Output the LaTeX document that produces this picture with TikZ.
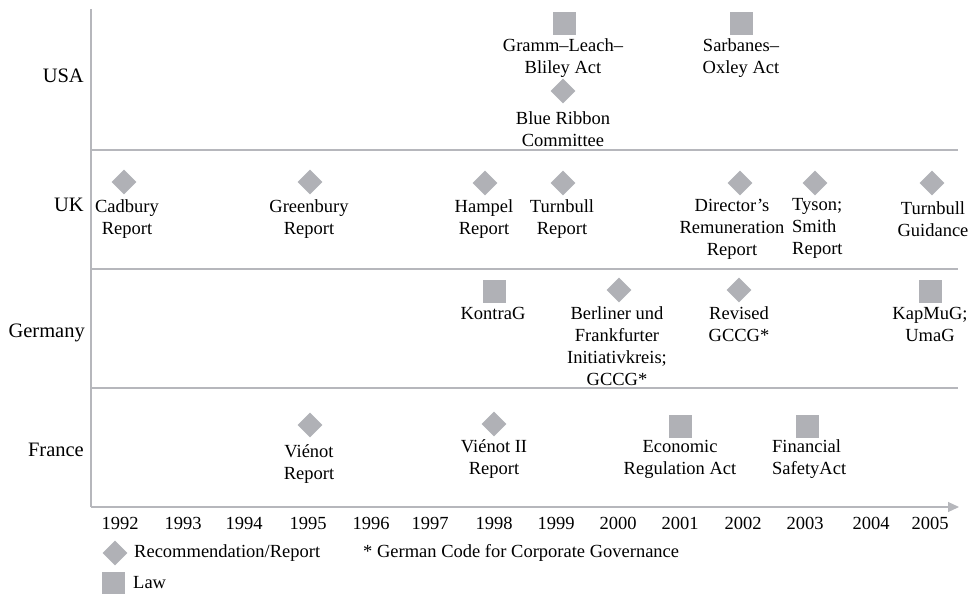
\documentclass[tikz,border=0pt]{standalone}
\usepackage{fontspec}
\setmainfont{Liberation Serif}
\usetikzlibrary{shapes.geometric,arrows.meta}
\definecolor{symgray}{RGB}{176,177,182}
\definecolor{linegray}{RGB}{182,183,188}
\begin{document}
\begin{tikzpicture}[x=1pt,y=-1pt,
  rec/.style={diamond,fill=symgray,inner sep=0pt,minimum width=25pt,minimum height=25pt},
  law/.style={rectangle,fill=symgray,inner sep=0pt,minimum size=23pt},
  lbl/.style={align=center,inner sep=0pt,font=\fontsize{18.5}{22}\selectfont},
  lbll/.style={align=left,inner sep=0pt,anchor=west,font=\fontsize{18.5}{22}\selectfont},
  ctry/.style={anchor=east,inner sep=0pt,font=\fontsize{20.5}{24}\selectfont},
  yr/.style={inner sep=0pt,font=\fontsize{18.5}{22}\selectfont},
  grid/.style={draw=linegray,line width=1.2pt}]
\useasboundingbox (0,0) rectangle (975,594);
% axes
\coordinate (top) at (91,9);
\coordinate (origin) at (91,507);
\coordinate (xend) at (959,507);
\coordinate (s1l) at (91,150); \coordinate (s1r) at (958,150);
\coordinate (s2l) at (91,269); \coordinate (s2r) at (958,269);
\coordinate (s3l) at (91,388); \coordinate (s3r) at (958,388);
\draw[grid] (top) -- (origin);
\draw[grid] (s1l) -- (s1r);
\draw[grid] (s2l) -- (s2r);
\draw[grid] (s3l) -- (s3r);
\draw[grid,-{Triangle[length=11pt,width=10pt]}] (origin) -- (xend);
% country labels
\node[ctry] (usa) at (84,76) {USA};
\node[ctry] (uk) at (84,205) {UK};
\node[ctry] (ger) at (85,333) {Germany};
\node[ctry] (fra) at (84,450) {France};
% years
\node[yr] (y92) at (120,523) {1992};
\node[yr] (y93) at (183,523) {1993};
\node[yr] (y94) at (244,523) {1994};
\node[yr] (y95) at (308,523) {1995};
\node[yr] (y96) at (371,523) {1996};
\node[yr] (y97) at (430,523) {1997};
\node[yr] (y98) at (494,523) {1998};
\node[yr] (y99) at (556,523) {1999};
\node[yr] (y00) at (618,523) {2000};
\node[yr] (y01) at (680,523) {2001};
\node[yr] (y02) at (743,523) {2002};
\node[yr] (y03) at (805,523) {2003};
\node[yr] (y04) at (871,523) {2004};
\node[yr] (y05) at (930,523) {2005};
% USA
\node[law] (glb) at (564,24) {};
\node[lbl] (glbt) at (563,58) {Gramm--Leach--\\Bliley Act};
\node[rec] (brc) at (563,91) {};
\node[lbl] (brct) at (563,129) {Blue Ribbon\\Committee};
\node[law] (sox) at (741,24) {};
\node[lbl] (soxt) at (741,58) {Sarbanes--\\Oxley Act};
% UK
\node[rec] (cad) at (124,182) {};
\node[lbl] (cadt) at (127,219) {Cadbury\\Report};
\node[rec] (gre) at (310,182) {};
\node[lbl] (gret) at (309,219) {Greenbury\\Report};
\node[rec] (ham) at (485,183) {};
\node[lbl] (hamt) at (484,219) {Hampel\\Report};
\node[rec] (tur) at (563,183) {};
\node[lbl] (turt) at (562,219) {Turnbull\\Report};
\node[rec] (dir) at (740,183) {};
\node[lbl] (dirt) at (732,229) {Director's\\Remuneration\\Report};
\node[rec] (tys) at (815,183) {};
\node[lbll] (tyst) at (792,228) {Tyson;\\Smith\\Report};
\node[rec] (tug) at (932,183) {};
\node[lbl] (tugt) at (933,219) {Turnbull\\Guidance};
% Germany
\node[law] (kon) at (494,291) {};
\node[lbl] (kont) at (493,313) {KontraG};
\node[rec] (ber) at (619,290) {};
\node[lbl] (bert) at (617,346) {Berliner und\\Frankfurter\\Initiativkreis;\\GCCG*};
\node[rec] (rev) at (739,290) {};
\node[lbl] (revt) at (739,324) {Revised\\GCCG*};
\node[law] (kap) at (930,291) {};
\node[lbl] (kapt) at (930,324) {KapMuG;\\UmaG};
% France
\node[rec] (vie) at (310,425) {};
\node[lbl] (viet) at (309,464) {Viénot\\Report};
\node[rec] (vi2) at (494,424) {};
\node[lbl] (vi2t) at (494,459) {Viénot II\\Report};
\node[law] (eco) at (680,426) {};
\node[lbl] (ecot) at (680,459) {Economic\\Regulation Act};
\node[law] (fin) at (807,426) {};
\node[lbll] (fint) at (772,459) {Financial\\SafetyAct};
% legend
\node[rec] (lrec) at (115,553) {};
\node[lbll] (lrect) at (134,553) {Recommendation/Report};
\node[lbll] (lnote) at (363,553) {* German Code for Corporate Governance};
\node[law] (llaw) at (113,583) {};
\node[lbll] (llawt) at (133,583) {Law};
\end{tikzpicture}
\end{document}
